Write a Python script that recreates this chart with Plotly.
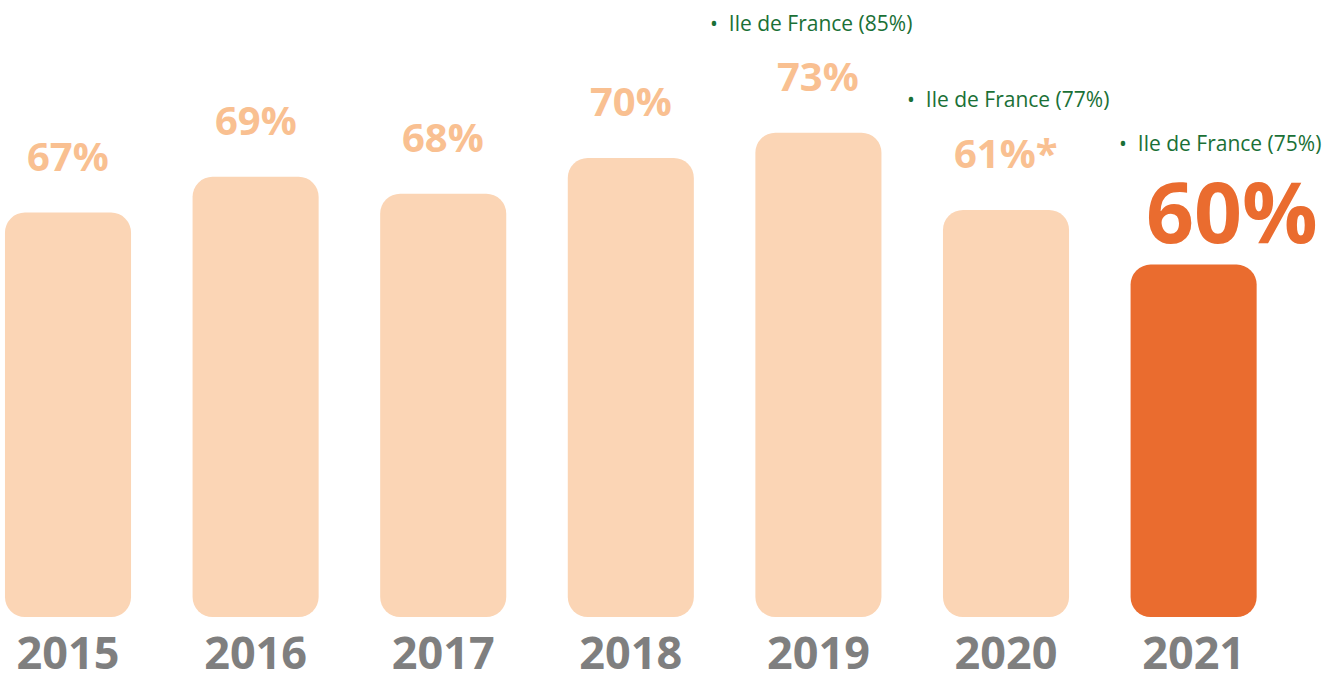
import plotly.graph_objects as go

# values shown on the chart
years = ["2015", "2016", "2017", "2018", "2019", "2020", "2021"]
labels = ["67%", "69%", "68%", "70%", "73%", "61%*", "60%"]
# bar heights as drawn in the source graphic (not strictly to scale with the labels)
bar_heights = [62.2, 67.7, 65.1, 70.6, 74.5, 62.6, 54.2]
# regional notes
note_years = ["2019", "2020", "2021"]
note_texts = ["Ile de France (85%)", "Ile de France (77%)", "Ile de France (75%)"]

LIGHT = "#FBD5B5"
LIGHT_TXT = "#F9C091"
DARK = "#EA6C2F"
GREEN = "#1A7036"
GREY = "#7F7F7F"
FONT = "Open Sans"

colors = [LIGHT] * 6 + [DARK]

fig = go.Figure()
# explicit base -> plotly rounds both ends of the bar
fig.add_trace(go.Bar(
    x=years, y=bar_heights, base=[0] * len(years),
    width=0.672, marker=dict(color=colors, cornerradius=20, line_width=0),
    customdata=labels, hovertemplate="%{x}: %{customdata}<extra></extra>",
    showlegend=False))

# value labels above bars (x given as category index, "2015" would be read as a number)
for i, (lab, h) in enumerate(zip(labels, bar_heights)):
    big = i == len(years) - 1
    fig.add_annotation(
        x=i, y=h, text=f"<b>{lab}</b>", showarrow=False, yanchor="bottom",
        xshift=38 if big else 0, yshift=-5 if big else 28,
        font=dict(family=FONT, size=84 if big else 40, color=DARK if big else LIGHT_TXT))

# green regional notes
note_offsets = {"2019": (-7, 110), "2020": (2, 111), "2021": (26, 122)}
for yr, txt in zip(note_years, note_texts):
    i = years.index(yr)
    dx, dy = note_offsets[yr]
    fig.add_annotation(
        x=i, y=bar_heights[i], text="•  " + txt, showarrow=False, yanchor="middle",
        xshift=dx, yshift=dy, font=dict(family=FONT, size=21, color=GREEN))

fig.update_layout(
    width=1327, height=683,
    margin=dict(l=0, r=0, t=0, b=66),
    paper_bgcolor="white", plot_bgcolor="white",
    xaxis=dict(type="category", range=[-0.3625, 6.711], showgrid=False, zeroline=False,
               showline=False, ticks="", ticklabelstandoff=6, automargin=False,
               tickfont=dict(family=FONT, size=45, color=GREY, weight="bold")),
    yaxis=dict(range=[0, 94.9], visible=False),
)

fig.write_html("out.html", config={"displayModeBar": False},
               post_script="document.body.style.margin='0';")
